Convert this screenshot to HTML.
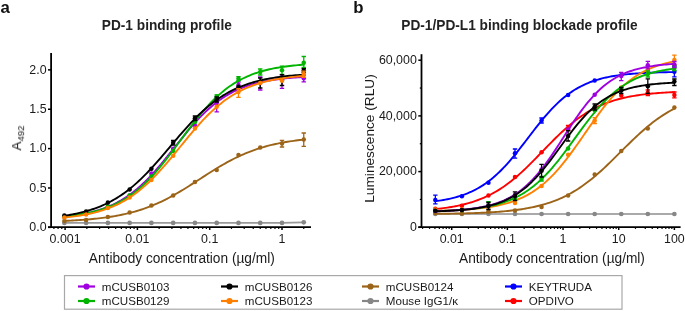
<!DOCTYPE html>
<html><head><meta charset="utf-8"><style>
html,body{margin:0;padding:0;background:#fff;}
svg{display:block;}
text{font-family:"Liberation Sans",sans-serif;fill:#1a1a1a;}
.tk{font-size:12.4px;}
.lg{font-size:11.6px;}
.ttl{font-size:13.7px;font-weight:bold;fill:#222;}
.pl{font-size:16.8px;font-weight:bold;fill:#111;}
.axl{font-size:13.7px;}
</style></head><body>
<svg width="685" height="311" viewBox="0 0 685 311">
<defs><filter id="gs" x="0" y="0" width="685" height="311" filterUnits="userSpaceOnUse"><feColorMatrix type="saturate" values="0"/></filter></defs>
<g filter="url(#gs)">
<text x="0.5" y="12.6" class="pl">a</text>
<text x="353.2" y="12.6" class="pl">b</text>
<text transform="translate(166.8,30) scale(1,1.09)" text-anchor="middle" class="ttl">PD-1 binding profile</text>
<text transform="translate(519.5,30) scale(1,1.09)" text-anchor="middle" class="ttl">PD-1/PD-L1 binding blockade profile</text>
<text transform="translate(181.8,262.6) scale(1,1.05)" text-anchor="middle" class="axl">Antibody concentration (µg/ml)</text>
<text transform="translate(552,262.6) scale(1,1.05)" text-anchor="middle" class="axl">Antibody concentration (µg/ml)</text>
<text transform="translate(21.1,150.6) rotate(-90)" class="axl">A<tspan dy="3.3" font-size="9.6px">492</tspan></text>
<text transform="translate(373.5,138.5) rotate(-90)" text-anchor="middle" class="axl">Luminescence (RLU)</text>
<text x="46.6" y="231.05" text-anchor="end" class="tk">0.0</text>
<text x="46.6" y="191.68" text-anchor="end" class="tk">0.5</text>
<text x="46.6" y="152.31" text-anchor="end" class="tk">1.0</text>
<text x="46.6" y="112.94" text-anchor="end" class="tk">1.5</text>
<text x="46.6" y="73.57" text-anchor="end" class="tk">2.0</text>
<text x="65.10" y="243" text-anchor="middle" class="tk">0.001</text>
<text x="137.40" y="243" text-anchor="middle" class="tk">0.01</text>
<text x="209.70" y="243" text-anchor="middle" class="tk">0.1</text>
<text x="282.00" y="243" text-anchor="middle" class="tk">1</text>
<text x="416.8" y="231.00" text-anchor="end" class="tk">0</text>
<text x="416.8" y="175.30" text-anchor="end" class="tk">20,000</text>
<text x="416.8" y="119.60" text-anchor="end" class="tk">40,000</text>
<text x="416.8" y="63.90" text-anchor="end" class="tk">60,000</text>
<text x="451.70" y="243" text-anchor="middle" class="tk">0.01</text>
<text x="507.37" y="243" text-anchor="middle" class="tk">0.1</text>
<text x="563.04" y="243" text-anchor="middle" class="tk">1</text>
<text x="618.71" y="243" text-anchor="middle" class="tk">10</text>
<text x="674.38" y="243" text-anchor="middle" class="tk">100</text>
<text x="101.8" y="290.7" class="lg">mCUSB0103</text>
<text x="101.8" y="305.2" class="lg">mCUSB0129</text>
<text x="244.8" y="290.7" class="lg">mCUSB0126</text>
<text x="244.8" y="305.2" class="lg">mCUSB0123</text>
<text x="385.8" y="290.7" class="lg">mCUSB0124</text>
<text x="385.8" y="305.2" class="lg">Mouse IgG1/κ</text>
<text x="528.8" y="290.7" class="lg">KEYTRUDA</text>
<text x="528.8" y="305.2" class="lg">OPDIVO</text>
</g>
<line x1="51.1" y1="53" x2="51.1" y2="228" stroke="#000" stroke-width="1.8"/>
<line x1="48" y1="227.1" x2="311" y2="227.1" stroke="#000" stroke-width="1.8"/>
<line x1="48" y1="227.35" x2="51.1" y2="227.35" stroke="#000" stroke-width="1.5"/>
<line x1="48" y1="187.98" x2="51.1" y2="187.98" stroke="#000" stroke-width="1.5"/>
<line x1="48" y1="148.61" x2="51.1" y2="148.61" stroke="#000" stroke-width="1.5"/>
<line x1="48" y1="109.24" x2="51.1" y2="109.24" stroke="#000" stroke-width="1.5"/>
<line x1="48" y1="69.87" x2="51.1" y2="69.87" stroke="#000" stroke-width="1.5"/>
<line x1="53.90" y1="227" x2="53.90" y2="228.9" stroke="#000" stroke-width="1.2"/>
<line x1="58.09" y1="227" x2="58.09" y2="228.9" stroke="#000" stroke-width="1.2"/>
<line x1="61.79" y1="227" x2="61.79" y2="228.9" stroke="#000" stroke-width="1.2"/>
<line x1="65.10" y1="227" x2="65.10" y2="230" stroke="#000" stroke-width="1.5"/>
<line x1="86.86" y1="227" x2="86.86" y2="228.9" stroke="#000" stroke-width="1.2"/>
<line x1="99.60" y1="227" x2="99.60" y2="228.9" stroke="#000" stroke-width="1.2"/>
<line x1="108.63" y1="227" x2="108.63" y2="228.9" stroke="#000" stroke-width="1.2"/>
<line x1="115.64" y1="227" x2="115.64" y2="228.9" stroke="#000" stroke-width="1.2"/>
<line x1="121.36" y1="227" x2="121.36" y2="228.9" stroke="#000" stroke-width="1.2"/>
<line x1="126.20" y1="227" x2="126.20" y2="228.9" stroke="#000" stroke-width="1.2"/>
<line x1="130.39" y1="227" x2="130.39" y2="228.9" stroke="#000" stroke-width="1.2"/>
<line x1="134.09" y1="227" x2="134.09" y2="228.9" stroke="#000" stroke-width="1.2"/>
<line x1="137.40" y1="227" x2="137.40" y2="230" stroke="#000" stroke-width="1.5"/>
<line x1="159.16" y1="227" x2="159.16" y2="228.9" stroke="#000" stroke-width="1.2"/>
<line x1="171.90" y1="227" x2="171.90" y2="228.9" stroke="#000" stroke-width="1.2"/>
<line x1="180.93" y1="227" x2="180.93" y2="228.9" stroke="#000" stroke-width="1.2"/>
<line x1="187.94" y1="227" x2="187.94" y2="228.9" stroke="#000" stroke-width="1.2"/>
<line x1="193.66" y1="227" x2="193.66" y2="228.9" stroke="#000" stroke-width="1.2"/>
<line x1="198.50" y1="227" x2="198.50" y2="228.9" stroke="#000" stroke-width="1.2"/>
<line x1="202.69" y1="227" x2="202.69" y2="228.9" stroke="#000" stroke-width="1.2"/>
<line x1="206.39" y1="227" x2="206.39" y2="228.9" stroke="#000" stroke-width="1.2"/>
<line x1="209.70" y1="227" x2="209.70" y2="230" stroke="#000" stroke-width="1.5"/>
<line x1="231.46" y1="227" x2="231.46" y2="228.9" stroke="#000" stroke-width="1.2"/>
<line x1="244.20" y1="227" x2="244.20" y2="228.9" stroke="#000" stroke-width="1.2"/>
<line x1="253.23" y1="227" x2="253.23" y2="228.9" stroke="#000" stroke-width="1.2"/>
<line x1="260.24" y1="227" x2="260.24" y2="228.9" stroke="#000" stroke-width="1.2"/>
<line x1="265.96" y1="227" x2="265.96" y2="228.9" stroke="#000" stroke-width="1.2"/>
<line x1="270.80" y1="227" x2="270.80" y2="228.9" stroke="#000" stroke-width="1.2"/>
<line x1="274.99" y1="227" x2="274.99" y2="228.9" stroke="#000" stroke-width="1.2"/>
<line x1="278.69" y1="227" x2="278.69" y2="228.9" stroke="#000" stroke-width="1.2"/>
<line x1="282.00" y1="227" x2="282.00" y2="230" stroke="#000" stroke-width="1.5"/>
<line x1="303.76" y1="227" x2="303.76" y2="228.9" stroke="#000" stroke-width="1.2"/>
<line x1="421.5" y1="54.2" x2="421.5" y2="228" stroke="#000" stroke-width="1.8"/>
<line x1="418.3" y1="227.1" x2="680.6" y2="227.1" stroke="#000" stroke-width="1.8"/>
<line x1="418.3" y1="227.30" x2="421.5" y2="227.30" stroke="#000" stroke-width="1.5"/>
<line x1="419.8" y1="199.45" x2="421.5" y2="199.45" stroke="#000" stroke-width="1.2"/>
<line x1="418.3" y1="171.60" x2="421.5" y2="171.60" stroke="#000" stroke-width="1.5"/>
<line x1="419.8" y1="143.75" x2="421.5" y2="143.75" stroke="#000" stroke-width="1.2"/>
<line x1="418.3" y1="115.90" x2="421.5" y2="115.90" stroke="#000" stroke-width="1.5"/>
<line x1="419.8" y1="88.05" x2="421.5" y2="88.05" stroke="#000" stroke-width="1.2"/>
<line x1="418.3" y1="60.20" x2="421.5" y2="60.20" stroke="#000" stroke-width="1.5"/>
<line x1="422.59" y1="227" x2="422.59" y2="228.9" stroke="#000" stroke-width="1.2"/>
<line x1="429.55" y1="227" x2="429.55" y2="228.9" stroke="#000" stroke-width="1.2"/>
<line x1="434.94" y1="227" x2="434.94" y2="228.9" stroke="#000" stroke-width="1.2"/>
<line x1="439.35" y1="227" x2="439.35" y2="228.9" stroke="#000" stroke-width="1.2"/>
<line x1="443.08" y1="227" x2="443.08" y2="228.9" stroke="#000" stroke-width="1.2"/>
<line x1="446.31" y1="227" x2="446.31" y2="228.9" stroke="#000" stroke-width="1.2"/>
<line x1="449.15" y1="227" x2="449.15" y2="228.9" stroke="#000" stroke-width="1.2"/>
<line x1="451.70" y1="227" x2="451.70" y2="230" stroke="#000" stroke-width="1.5"/>
<line x1="468.46" y1="227" x2="468.46" y2="228.9" stroke="#000" stroke-width="1.2"/>
<line x1="478.26" y1="227" x2="478.26" y2="228.9" stroke="#000" stroke-width="1.2"/>
<line x1="485.22" y1="227" x2="485.22" y2="228.9" stroke="#000" stroke-width="1.2"/>
<line x1="490.61" y1="227" x2="490.61" y2="228.9" stroke="#000" stroke-width="1.2"/>
<line x1="495.02" y1="227" x2="495.02" y2="228.9" stroke="#000" stroke-width="1.2"/>
<line x1="498.75" y1="227" x2="498.75" y2="228.9" stroke="#000" stroke-width="1.2"/>
<line x1="501.98" y1="227" x2="501.98" y2="228.9" stroke="#000" stroke-width="1.2"/>
<line x1="504.82" y1="227" x2="504.82" y2="228.9" stroke="#000" stroke-width="1.2"/>
<line x1="507.37" y1="227" x2="507.37" y2="230" stroke="#000" stroke-width="1.5"/>
<line x1="524.13" y1="227" x2="524.13" y2="228.9" stroke="#000" stroke-width="1.2"/>
<line x1="533.93" y1="227" x2="533.93" y2="228.9" stroke="#000" stroke-width="1.2"/>
<line x1="540.89" y1="227" x2="540.89" y2="228.9" stroke="#000" stroke-width="1.2"/>
<line x1="546.28" y1="227" x2="546.28" y2="228.9" stroke="#000" stroke-width="1.2"/>
<line x1="550.69" y1="227" x2="550.69" y2="228.9" stroke="#000" stroke-width="1.2"/>
<line x1="554.42" y1="227" x2="554.42" y2="228.9" stroke="#000" stroke-width="1.2"/>
<line x1="557.65" y1="227" x2="557.65" y2="228.9" stroke="#000" stroke-width="1.2"/>
<line x1="560.49" y1="227" x2="560.49" y2="228.9" stroke="#000" stroke-width="1.2"/>
<line x1="563.04" y1="227" x2="563.04" y2="230" stroke="#000" stroke-width="1.5"/>
<line x1="579.80" y1="227" x2="579.80" y2="228.9" stroke="#000" stroke-width="1.2"/>
<line x1="589.60" y1="227" x2="589.60" y2="228.9" stroke="#000" stroke-width="1.2"/>
<line x1="596.56" y1="227" x2="596.56" y2="228.9" stroke="#000" stroke-width="1.2"/>
<line x1="601.95" y1="227" x2="601.95" y2="228.9" stroke="#000" stroke-width="1.2"/>
<line x1="606.36" y1="227" x2="606.36" y2="228.9" stroke="#000" stroke-width="1.2"/>
<line x1="610.09" y1="227" x2="610.09" y2="228.9" stroke="#000" stroke-width="1.2"/>
<line x1="613.32" y1="227" x2="613.32" y2="228.9" stroke="#000" stroke-width="1.2"/>
<line x1="616.16" y1="227" x2="616.16" y2="228.9" stroke="#000" stroke-width="1.2"/>
<line x1="618.71" y1="227" x2="618.71" y2="230" stroke="#000" stroke-width="1.5"/>
<line x1="635.47" y1="227" x2="635.47" y2="228.9" stroke="#000" stroke-width="1.2"/>
<line x1="645.27" y1="227" x2="645.27" y2="228.9" stroke="#000" stroke-width="1.2"/>
<line x1="652.23" y1="227" x2="652.23" y2="228.9" stroke="#000" stroke-width="1.2"/>
<line x1="657.62" y1="227" x2="657.62" y2="228.9" stroke="#000" stroke-width="1.2"/>
<line x1="662.03" y1="227" x2="662.03" y2="228.9" stroke="#000" stroke-width="1.2"/>
<line x1="665.76" y1="227" x2="665.76" y2="228.9" stroke="#000" stroke-width="1.2"/>
<line x1="668.99" y1="227" x2="668.99" y2="228.9" stroke="#000" stroke-width="1.2"/>
<line x1="671.83" y1="227" x2="671.83" y2="228.9" stroke="#000" stroke-width="1.2"/>
<line x1="674.38" y1="227" x2="674.38" y2="230" stroke="#000" stroke-width="1.5"/>
<rect x="64.5" y="275.6" width="557.5" height="33.6" fill="none" stroke="#a8a8a8" stroke-width="1.2"/>
<line x1="78.0" y1="286.5" x2="95.0" y2="286.5" stroke="#a000e0" stroke-width="2.2"/>
<circle cx="86.5" cy="286.5" r="3.1" fill="#a000e0"/>
<line x1="78.0" y1="301.0" x2="95.0" y2="301.0" stroke="#00b400" stroke-width="2.2"/>
<circle cx="86.5" cy="301.0" r="3.1" fill="#00b400"/>
<line x1="221.0" y1="286.5" x2="238.0" y2="286.5" stroke="#000000" stroke-width="2.2"/>
<circle cx="229.5" cy="286.5" r="3.1" fill="#000000"/>
<line x1="221.0" y1="301.0" x2="238.0" y2="301.0" stroke="#ff8000" stroke-width="2.2"/>
<circle cx="229.5" cy="301.0" r="3.1" fill="#ff8000"/>
<line x1="362.0" y1="286.5" x2="379.0" y2="286.5" stroke="#9c6419" stroke-width="2.2"/>
<circle cx="370.5" cy="286.5" r="3.1" fill="#9c6419"/>
<line x1="362.0" y1="301.0" x2="379.0" y2="301.0" stroke="#878787" stroke-width="2.2"/>
<circle cx="370.5" cy="301.0" r="3.1" fill="#878787"/>
<line x1="505.0" y1="286.5" x2="522.0" y2="286.5" stroke="#0000ff" stroke-width="2.2"/>
<circle cx="513.5" cy="286.5" r="3.1" fill="#0000ff"/>
<line x1="505.0" y1="301.0" x2="522.0" y2="301.0" stroke="#ff0000" stroke-width="2.2"/>
<circle cx="513.5" cy="301.0" r="3.1" fill="#ff0000"/>
<polyline points="64.36,222.90 86.12,222.90 107.88,222.90 129.65,222.90 151.41,222.90 173.18,222.90 194.94,222.90 216.71,222.90 238.47,222.90 260.24,222.90 282.00,222.90 303.76,222.30" fill="none" stroke="#9a9a9a" stroke-width="1.7"/>
<polyline points="435.33,214.00 461.89,214.00 488.45,214.00 515.01,214.00 541.57,214.00 568.13,214.00 594.70,214.00 621.26,214.00 647.82,214.00 674.38,214.00" fill="none" stroke="#8e8e8e" stroke-width="1.6"/>
<circle cx="64.36" cy="222.90" r="2.35" fill="#878787"/><circle cx="86.12" cy="222.90" r="2.35" fill="#878787"/><circle cx="107.88" cy="222.90" r="2.35" fill="#878787"/><circle cx="129.65" cy="222.90" r="2.35" fill="#878787"/><circle cx="151.41" cy="222.90" r="2.35" fill="#878787"/><circle cx="173.18" cy="222.90" r="2.35" fill="#878787"/><circle cx="194.94" cy="222.90" r="2.35" fill="#878787"/><circle cx="216.71" cy="222.90" r="2.35" fill="#878787"/><circle cx="238.47" cy="222.90" r="2.35" fill="#878787"/><circle cx="260.24" cy="222.90" r="2.35" fill="#878787"/><circle cx="282.00" cy="222.90" r="2.35" fill="#878787"/><circle cx="303.76" cy="222.30" r="2.35" fill="#878787"/>
<circle cx="435.33" cy="214.00" r="2.35" fill="#878787"/><circle cx="461.89" cy="214.00" r="2.35" fill="#878787"/><circle cx="488.45" cy="214.00" r="2.35" fill="#878787"/><circle cx="515.01" cy="214.00" r="2.35" fill="#878787"/><circle cx="541.57" cy="214.00" r="2.35" fill="#878787"/><circle cx="568.13" cy="214.00" r="2.35" fill="#878787"/><circle cx="594.70" cy="214.00" r="2.35" fill="#878787"/><circle cx="621.26" cy="214.00" r="2.35" fill="#878787"/><circle cx="647.82" cy="214.00" r="2.35" fill="#878787"/><circle cx="674.38" cy="214.00" r="2.35" fill="#878787"/>
<polyline points="64.36,220.89 66.37,220.80 68.38,220.71 70.39,220.60 72.40,220.50 74.41,220.39 76.43,220.27 78.44,220.14 80.45,220.01 82.46,219.86 84.47,219.71 86.49,219.55 88.50,219.39 90.51,219.21 92.52,219.02 94.53,218.82 96.54,218.61 98.56,218.39 100.57,218.15 102.58,217.91 104.59,217.64 106.60,217.37 108.62,217.08 110.63,216.77 112.64,216.45 114.65,216.10 116.66,215.75 118.68,215.37 120.69,214.97 122.70,214.55 124.71,214.11 126.72,213.65 128.73,213.17 130.75,212.66 132.76,212.13 134.77,211.57 136.78,210.99 138.79,210.38 140.81,209.74 142.82,209.08 144.83,208.38 146.84,207.66 148.85,206.91 150.86,206.13 152.88,205.32 154.89,204.48 156.90,203.61 158.91,202.71 160.92,201.77 162.94,200.81 164.95,199.82 166.96,198.80 168.97,197.75 170.98,196.68 172.99,195.57 175.01,194.45 177.02,193.29 179.03,192.12 181.04,190.92 183.05,189.70 185.07,188.47 187.08,187.22 189.09,185.95 191.10,184.67 193.11,183.39 195.13,182.09 197.14,180.79 199.15,179.49 201.16,178.18 203.17,176.88 205.18,175.59 207.20,174.29 209.21,173.01 211.22,171.74 213.23,170.48 215.24,169.24 217.26,168.01 219.27,166.80 221.28,165.62 223.29,164.45 225.30,163.31 227.31,162.20 229.33,161.11 231.34,160.05 233.35,159.01 235.36,158.01 237.37,157.03 239.39,156.08 241.40,155.17 243.41,154.28 245.42,153.42 247.43,152.60 249.44,151.80 251.46,151.04 253.47,150.30 255.48,149.59 257.49,148.92 259.50,148.27 261.52,147.64 263.53,147.05 265.54,146.48 267.55,145.93 269.56,145.41 271.58,144.92 273.59,144.45 275.60,144.00 277.61,143.57 279.62,143.16 281.63,142.77 283.65,142.40 285.66,142.05 287.67,141.72 289.68,141.41 291.69,141.11 293.71,140.82 295.72,140.55 297.73,140.30 299.74,140.06 301.75,139.83 303.76,139.61" fill="none" stroke="#9c6419" stroke-width="1.9" stroke-linejoin="round" stroke-linecap="round"/>
<path d="M303.76 133.00V146.40M301.56 133.00H305.96M301.56 146.40H305.96" stroke="#9c6419" stroke-width="1.3" fill="none"/>
<path d="M282.00 140.40V147.00M279.80 140.40H284.20M279.80 147.00H284.20" stroke="#9c6419" stroke-width="1.3" fill="none"/>
<circle cx="64.36" cy="221.00" r="2.25" fill="#9c6419"/>
<circle cx="86.12" cy="220.00" r="2.25" fill="#9c6419"/>
<circle cx="107.88" cy="217.00" r="2.25" fill="#9c6419"/>
<circle cx="129.65" cy="212.60" r="2.25" fill="#9c6419"/>
<circle cx="151.41" cy="205.60" r="2.25" fill="#9c6419"/>
<circle cx="173.18" cy="195.60" r="2.25" fill="#9c6419"/>
<circle cx="194.94" cy="182.00" r="2.25" fill="#9c6419"/>
<circle cx="216.71" cy="170.00" r="2.25" fill="#9c6419"/>
<circle cx="238.47" cy="155.00" r="2.25" fill="#9c6419"/>
<circle cx="260.24" cy="147.40" r="2.25" fill="#9c6419"/>
<circle cx="282.00" cy="143.60" r="2.25" fill="#9c6419"/>
<circle cx="303.76" cy="139.60" r="2.25" fill="#9c6419"/>
<polyline points="64.36,216.64 66.37,216.43 68.38,216.20 70.39,215.95 72.40,215.69 74.41,215.41 76.43,215.11 78.44,214.79 80.45,214.45 82.46,214.08 84.47,213.70 86.49,213.28 88.50,212.84 90.51,212.37 92.52,211.87 94.53,211.33 96.54,210.76 98.56,210.16 100.57,209.52 102.58,208.83 104.59,208.11 106.60,207.34 108.62,206.52 110.63,205.66 112.64,204.75 114.65,203.78 116.66,202.76 118.68,201.68 120.69,200.55 122.70,199.35 124.71,198.09 126.72,196.77 128.73,195.39 130.75,193.93 132.76,192.41 134.77,190.83 136.78,189.17 138.79,187.45 140.81,185.65 142.82,183.79 144.83,181.86 146.84,179.87 148.85,177.81 150.86,175.69 152.88,173.52 154.89,171.28 156.90,169.00 158.91,166.66 160.92,164.28 162.94,161.87 164.95,159.41 166.96,156.93 168.97,154.43 170.98,151.91 172.99,149.38 175.01,146.85 177.02,144.31 179.03,141.79 181.04,139.28 183.05,136.79 185.07,134.32 187.08,131.89 189.09,129.49 191.10,127.14 193.11,124.83 195.13,122.57 197.14,120.37 199.15,118.22 201.16,116.14 203.17,114.11 205.18,112.16 207.20,110.27 209.21,108.44 211.22,106.69 213.23,105.00 215.24,103.38 217.26,101.83 219.27,100.35 221.28,98.93 223.29,97.58 225.30,96.30 227.31,95.07 229.33,93.91 231.34,92.81 233.35,91.76 235.36,90.77 237.37,89.84 239.39,88.95 241.40,88.11 243.41,87.32 245.42,86.58 247.43,85.88 249.44,85.22 251.46,84.60 253.47,84.01 255.48,83.46 257.49,82.95 259.50,82.46 261.52,82.01 263.53,81.58 265.54,81.18 267.55,80.80 269.56,80.45 271.58,80.12 273.59,79.82 275.60,79.53 277.61,79.26 279.62,79.00 281.63,78.77 283.65,78.55 285.66,78.34 287.67,78.15 289.68,77.97 291.69,77.80 293.71,77.64 295.72,77.49 297.73,77.36 299.74,77.23 301.75,77.11 303.76,77.00" fill="none" stroke="#a000e0" stroke-width="1.9" stroke-linejoin="round" stroke-linecap="round"/>
<path d="M303.76 75.00V81.80M301.56 75.00H305.96M301.56 81.80H305.96" stroke="#a000e0" stroke-width="1.3" fill="none"/>
<path d="M282.00 76.00V88.30M279.80 76.00H284.20M279.80 88.30H284.20" stroke="#a000e0" stroke-width="1.3" fill="none"/>
<path d="M260.24 77.00V90.00M258.04 77.00H262.44M258.04 90.00H262.44" stroke="#a000e0" stroke-width="1.3" fill="none"/>
<path d="M238.47 82.00V87.50M236.27 82.00H240.67M236.27 87.50H240.67" stroke="#a000e0" stroke-width="1.3" fill="none"/>
<path d="M216.71 100.00V111.80M214.51 100.00H218.91M214.51 111.80H218.91" stroke="#a000e0" stroke-width="1.3" fill="none"/>
<circle cx="64.36" cy="216.80" r="2.25" fill="#a000e0"/>
<circle cx="86.12" cy="213.60" r="2.25" fill="#a000e0"/>
<circle cx="107.88" cy="206.50" r="2.25" fill="#a000e0"/>
<circle cx="129.65" cy="195.50" r="2.25" fill="#a000e0"/>
<circle cx="151.41" cy="173.40" r="2.25" fill="#a000e0"/>
<circle cx="173.18" cy="148.80" r="2.25" fill="#a000e0"/>
<circle cx="194.94" cy="125.50" r="2.25" fill="#a000e0"/>
<circle cx="216.71" cy="103.00" r="2.25" fill="#a000e0"/>
<circle cx="238.47" cy="84.90" r="2.25" fill="#a000e0"/>
<circle cx="260.24" cy="82.00" r="2.25" fill="#a000e0"/>
<circle cx="282.00" cy="80.00" r="2.25" fill="#a000e0"/>
<circle cx="303.76" cy="78.20" r="2.25" fill="#a000e0"/>
<polyline points="64.36,216.25 66.37,216.05 68.38,215.84 70.39,215.62 72.40,215.38 74.41,215.12 76.43,214.85 78.44,214.55 80.45,214.24 82.46,213.91 84.47,213.55 86.49,213.17 88.50,212.76 90.51,212.33 92.52,211.87 94.53,211.38 96.54,210.85 98.56,210.30 100.57,209.70 102.58,209.07 104.59,208.40 106.60,207.69 108.62,206.93 110.63,206.13 112.64,205.28 114.65,204.38 116.66,203.43 118.68,202.42 120.69,201.36 122.70,200.24 124.71,199.05 126.72,197.80 128.73,196.49 130.75,195.11 132.76,193.67 134.77,192.15 136.78,190.56 138.79,188.90 140.81,187.17 142.82,185.36 144.83,183.48 146.84,181.53 148.85,179.50 150.86,177.41 152.88,175.24 154.89,173.01 156.90,170.71 158.91,168.35 160.92,165.93 162.94,163.46 164.95,160.93 166.96,158.36 168.97,155.75 170.98,153.11 172.99,150.43 175.01,147.73 177.02,145.02 179.03,142.29 181.04,139.57 183.05,136.84 185.07,134.12 187.08,131.42 189.09,128.75 191.10,126.10 193.11,123.48 195.13,120.91 197.14,118.38 199.15,115.90 201.16,113.47 203.17,111.11 205.18,108.80 207.20,106.56 209.21,104.39 211.22,102.28 213.23,100.25 215.24,98.29 217.26,96.40 219.27,94.59 221.28,92.85 223.29,91.18 225.30,89.58 227.31,88.06 229.33,86.60 231.34,85.21 233.35,83.89 235.36,82.64 237.37,81.45 239.39,80.32 241.40,79.25 243.41,78.24 245.42,77.28 247.43,76.37 249.44,75.52 251.46,74.71 253.47,73.95 255.48,73.23 257.49,72.56 259.50,71.92 261.52,71.32 263.53,70.76 265.54,70.24 267.55,69.74 269.56,69.28 271.58,68.84 273.59,68.43 275.60,68.05 277.61,67.69 279.62,67.35 281.63,67.04 283.65,66.74 285.66,66.46 287.67,66.20 289.68,65.96 291.69,65.74 293.71,65.52 295.72,65.33 297.73,65.14 299.74,64.97 301.75,64.81 303.76,64.65" fill="none" stroke="#00b400" stroke-width="1.9" stroke-linejoin="round" stroke-linecap="round"/>
<path d="M303.76 56.50V67.50M301.56 56.50H305.96M301.56 67.50H305.96" stroke="#00b400" stroke-width="1.3" fill="none"/>
<path d="M282.00 66.20V74.50M279.80 66.20H284.20M279.80 74.50H284.20" stroke="#00b400" stroke-width="1.3" fill="none"/>
<path d="M260.24 69.00V75.00M258.04 69.00H262.44M258.04 75.00H262.44" stroke="#00b400" stroke-width="1.3" fill="none"/>
<path d="M238.47 76.70V80.60M236.27 76.70H240.67M236.27 80.60H240.67" stroke="#00b400" stroke-width="1.3" fill="none"/>
<path d="M216.71 94.80V98.50M214.51 94.80H218.91M214.51 98.50H218.91" stroke="#00b400" stroke-width="1.3" fill="none"/>
<circle cx="64.36" cy="216.80" r="2.25" fill="#00b400"/>
<circle cx="86.12" cy="213.60" r="2.25" fill="#00b400"/>
<circle cx="107.88" cy="206.50" r="2.25" fill="#00b400"/>
<circle cx="129.65" cy="195.40" r="2.25" fill="#00b400"/>
<circle cx="151.41" cy="176.40" r="2.25" fill="#00b400"/>
<circle cx="173.18" cy="151.00" r="2.25" fill="#00b400"/>
<circle cx="194.94" cy="121.90" r="2.25" fill="#00b400"/>
<circle cx="216.71" cy="96.50" r="2.25" fill="#00b400"/>
<circle cx="238.47" cy="78.70" r="2.25" fill="#00b400"/>
<circle cx="260.24" cy="72.00" r="2.25" fill="#00b400"/>
<circle cx="282.00" cy="70.30" r="2.25" fill="#00b400"/>
<circle cx="303.76" cy="62.70" r="2.25" fill="#00b400"/>
<polyline points="64.36,215.75 66.37,215.44 68.38,215.11 70.39,214.77 72.40,214.40 74.41,214.01 76.43,213.59 78.44,213.15 80.45,212.69 82.46,212.19 84.47,211.67 86.49,211.12 88.50,210.53 90.51,209.92 92.52,209.26 94.53,208.57 96.54,207.84 98.56,207.07 100.57,206.26 102.58,205.40 104.59,204.50 106.60,203.56 108.62,202.56 110.63,201.52 112.64,200.42 114.65,199.27 116.66,198.07 118.68,196.81 120.69,195.49 122.70,194.12 124.71,192.69 126.72,191.20 128.73,189.65 130.75,188.04 132.76,186.37 134.77,184.65 136.78,182.86 138.79,181.02 140.81,179.12 142.82,177.16 144.83,175.16 146.84,173.10 148.85,170.99 150.86,168.84 152.88,166.65 154.89,164.41 156.90,162.15 158.91,159.85 160.92,157.52 162.94,155.17 164.95,152.81 166.96,150.43 168.97,148.04 170.98,145.65 172.99,143.27 175.01,140.89 177.02,138.52 179.03,136.17 181.04,133.83 183.05,131.53 185.07,129.26 187.08,127.02 189.09,124.81 191.10,122.65 193.11,120.54 195.13,118.47 197.14,116.45 199.15,114.49 201.16,112.58 203.17,110.72 205.18,108.93 207.20,107.19 209.21,105.51 211.22,103.89 213.23,102.33 215.24,100.83 217.26,99.38 219.27,98.00 221.28,96.67 223.29,95.40 225.30,94.19 227.31,93.03 229.33,91.92 231.34,90.87 233.35,89.86 235.36,88.90 237.37,88.00 239.39,87.13 241.40,86.31 243.41,85.54 245.42,84.80 247.43,84.10 249.44,83.44 251.46,82.81 253.47,82.22 255.48,81.66 257.49,81.13 259.50,80.63 261.52,80.16 263.53,79.72 265.54,79.30 267.55,78.91 269.56,78.53 271.58,78.18 273.59,77.85 275.60,77.54 277.61,77.25 279.62,76.97 281.63,76.71 283.65,76.47 285.66,76.24 287.67,76.02 289.68,75.82 291.69,75.63 293.71,75.45 295.72,75.28 297.73,75.13 299.74,74.98 301.75,74.84 303.76,74.71" fill="none" stroke="#000000" stroke-width="1.9" stroke-linejoin="round" stroke-linecap="round"/>
<path d="M303.76 68.60V72.50M301.56 68.60H305.96M301.56 72.50H305.96" stroke="#000000" stroke-width="1.3" fill="none"/>
<path d="M282.00 74.60V85.50M279.80 74.60H284.20M279.80 85.50H284.20" stroke="#000000" stroke-width="1.3" fill="none"/>
<path d="M260.24 78.00V88.00M258.04 78.00H262.44M258.04 88.00H262.44" stroke="#000000" stroke-width="1.3" fill="none"/>
<path d="M216.71 97.00V102.00M214.51 97.00H218.91M214.51 102.00H218.91" stroke="#000000" stroke-width="1.3" fill="none"/>
<path d="M194.94 116.00V120.50M192.74 116.00H197.14M192.74 120.50H197.14" stroke="#000000" stroke-width="1.3" fill="none"/>
<path d="M173.18 140.50V145.00M170.98 140.50H175.38M170.98 145.00H175.38" stroke="#000000" stroke-width="1.3" fill="none"/>
<circle cx="64.36" cy="215.60" r="2.25" fill="#000000"/>
<circle cx="86.12" cy="211.40" r="2.25" fill="#000000"/>
<circle cx="107.88" cy="202.40" r="2.25" fill="#000000"/>
<circle cx="129.65" cy="189.40" r="2.25" fill="#000000"/>
<circle cx="151.41" cy="168.80" r="2.25" fill="#000000"/>
<circle cx="173.18" cy="142.70" r="2.25" fill="#000000"/>
<circle cx="194.94" cy="118.20" r="2.25" fill="#000000"/>
<circle cx="216.71" cy="99.50" r="2.25" fill="#000000"/>
<circle cx="238.47" cy="86.80" r="2.25" fill="#000000"/>
<circle cx="260.24" cy="82.50" r="2.25" fill="#000000"/>
<circle cx="282.00" cy="80.00" r="2.25" fill="#000000"/>
<circle cx="303.76" cy="70.60" r="2.25" fill="#000000"/>
<polyline points="64.36,217.55 66.37,217.35 68.38,217.13 70.39,216.89 72.40,216.65 74.41,216.38 76.43,216.10 78.44,215.80 80.45,215.48 82.46,215.14 84.47,214.77 86.49,214.39 88.50,213.98 90.51,213.54 92.52,213.08 94.53,212.58 96.54,212.06 98.56,211.50 100.57,210.92 102.58,210.29 104.59,209.63 106.60,208.93 108.62,208.19 110.63,207.40 112.64,206.57 114.65,205.70 116.66,204.77 118.68,203.80 120.69,202.78 122.70,201.70 124.71,200.56 126.72,199.37 128.73,198.12 130.75,196.81 132.76,195.44 134.77,194.01 136.78,192.51 138.79,190.95 140.81,189.33 142.82,187.64 144.83,185.89 146.84,184.08 148.85,182.20 150.86,180.27 152.88,178.27 154.89,176.21 156.90,174.10 158.91,171.94 160.92,169.73 162.94,167.47 164.95,165.16 166.96,162.82 168.97,160.45 170.98,158.05 172.99,155.62 175.01,153.17 177.02,150.71 179.03,148.24 181.04,145.77 183.05,143.31 185.07,140.85 187.08,138.40 189.09,135.98 191.10,133.58 193.11,131.20 195.13,128.87 197.14,126.57 199.15,124.31 201.16,122.11 203.17,119.95 205.18,117.84 207.20,115.79 209.21,113.80 211.22,111.87 213.23,110.00 215.24,108.19 217.26,106.45 219.27,104.77 221.28,103.15 223.29,101.60 225.30,100.11 227.31,98.68 229.33,97.31 231.34,96.01 233.35,94.77 235.36,93.58 237.37,92.45 239.39,91.38 241.40,90.36 243.41,89.39 245.42,88.47 247.43,87.60 249.44,86.77 251.46,85.99 253.47,85.26 255.48,84.56 257.49,83.90 259.50,83.28 261.52,82.69 263.53,82.14 265.54,81.62 267.55,81.13 269.56,80.67 271.58,80.24 273.59,79.83 275.60,79.44 277.61,79.08 279.62,78.74 281.63,78.43 283.65,78.13 285.66,77.85 287.67,77.58 289.68,77.34 291.69,77.10 293.71,76.89 295.72,76.68 297.73,76.49 299.74,76.31 301.75,76.14 303.76,75.99" fill="none" stroke="#ff8000" stroke-width="1.9" stroke-linejoin="round" stroke-linecap="round"/>
<path d="M303.76 71.20V77.30M301.56 71.20H305.96M301.56 77.30H305.96" stroke="#ff8000" stroke-width="1.3" fill="none"/>
<path d="M238.47 88.75V97.40M236.27 88.75H240.67M236.27 97.40H240.67" stroke="#ff8000" stroke-width="1.3" fill="none"/>
<circle cx="64.36" cy="217.60" r="2.25" fill="#ff8000"/>
<circle cx="86.12" cy="214.60" r="2.25" fill="#ff8000"/>
<circle cx="107.88" cy="208.00" r="2.25" fill="#ff8000"/>
<circle cx="129.65" cy="197.60" r="2.25" fill="#ff8000"/>
<circle cx="151.41" cy="180.00" r="2.25" fill="#ff8000"/>
<circle cx="173.18" cy="155.80" r="2.25" fill="#ff8000"/>
<circle cx="194.94" cy="128.40" r="2.25" fill="#ff8000"/>
<circle cx="216.71" cy="106.70" r="2.25" fill="#ff8000"/>
<circle cx="238.47" cy="92.10" r="2.25" fill="#ff8000"/>
<circle cx="260.24" cy="83.00" r="2.25" fill="#ff8000"/>
<circle cx="282.00" cy="80.70" r="2.25" fill="#ff8000"/>
<circle cx="303.76" cy="73.90" r="2.25" fill="#ff8000"/>
<polyline points="435.33,209.12 437.34,208.91 439.35,208.68 441.35,208.44 443.36,208.18 445.37,207.91 447.38,207.62 449.39,207.31 451.40,206.98 453.41,206.63 455.42,206.25 457.43,205.85 459.43,205.43 461.44,204.98 463.45,204.50 465.46,203.99 467.47,203.45 469.48,202.88 471.49,202.28 473.50,201.63 475.50,200.95 477.51,200.24 479.52,199.48 481.53,198.68 483.54,197.83 485.55,196.94 487.56,196.00 489.57,195.02 491.58,193.98 493.58,192.90 495.59,191.76 497.60,190.57 499.61,189.32 501.62,188.02 503.63,186.67 505.64,185.26 507.65,183.80 509.66,182.28 511.66,180.71 513.67,179.08 515.68,177.41 517.69,175.68 519.70,173.91 521.71,172.09 523.72,170.23 525.73,168.33 527.73,166.39 529.74,164.42 531.75,162.42 533.76,160.39 535.77,158.34 537.78,156.28 539.79,154.21 541.80,152.13 543.81,150.05 545.81,147.97 547.82,145.90 549.83,143.85 551.84,141.81 553.85,139.79 555.86,137.80 557.87,135.84 559.88,133.91 561.88,132.03 563.89,130.18 565.90,128.38 567.91,126.62 569.92,124.91 571.93,123.25 573.94,121.65 575.95,120.10 577.96,118.60 579.96,117.15 581.97,115.77 583.98,114.43 585.99,113.15 588.00,111.93 590.01,110.75 592.02,109.64 594.03,108.57 596.04,107.55 598.04,106.58 600.05,105.66 602.06,104.79 604.07,103.96 606.08,103.17 608.09,102.43 610.10,101.73 612.11,101.06 614.11,100.43 616.12,99.84 618.13,99.28 620.14,98.75 622.15,98.25 624.16,97.79 626.17,97.35 628.18,96.93 630.19,96.54 632.19,96.17 634.20,95.83 636.21,95.51 638.22,95.20 640.23,94.92 642.24,94.65 644.25,94.40 646.26,94.17 648.27,93.95 650.27,93.74 652.28,93.55 654.29,93.37 656.30,93.20 658.31,93.04 660.32,92.89 662.33,92.75 664.34,92.62 666.34,92.50 668.35,92.38 670.36,92.28 672.37,92.18 674.38,92.08" fill="none" stroke="#ff0000" stroke-width="1.9" stroke-linejoin="round" stroke-linecap="round"/>
<path d="M674.38 92.00V97.80M672.18 92.00H676.58M672.18 97.80H676.58" stroke="#ff0000" stroke-width="1.3" fill="none"/>
<path d="M647.82 90.00V95.50M645.62 90.00H650.02M645.62 95.50H650.02" stroke="#ff0000" stroke-width="1.3" fill="none"/>
<path d="M568.13 125.30V130.50M565.93 125.30H570.33M565.93 130.50H570.33" stroke="#ff0000" stroke-width="1.3" fill="none"/>
<circle cx="435.33" cy="208.70" r="2.25" fill="#ff0000"/>
<circle cx="461.89" cy="205.80" r="2.25" fill="#ff0000"/>
<circle cx="488.45" cy="195.60" r="2.25" fill="#ff0000"/>
<circle cx="515.01" cy="176.90" r="2.25" fill="#ff0000"/>
<circle cx="541.57" cy="152.30" r="2.25" fill="#ff0000"/>
<circle cx="568.13" cy="128.00" r="2.25" fill="#ff0000"/>
<circle cx="594.70" cy="108.50" r="2.25" fill="#ff0000"/>
<circle cx="621.26" cy="95.60" r="2.25" fill="#ff0000"/>
<circle cx="647.82" cy="92.70" r="2.25" fill="#ff0000"/>
<circle cx="674.38" cy="95.00" r="2.25" fill="#ff0000"/>
<polyline points="435.33,201.20 437.34,200.93 439.35,200.64 441.35,200.33 443.36,199.99 445.37,199.62 447.38,199.23 449.39,198.81 451.40,198.36 453.41,197.87 455.42,197.35 457.43,196.79 459.43,196.19 461.44,195.54 463.45,194.85 465.46,194.12 467.47,193.33 469.48,192.48 471.49,191.59 473.50,190.63 475.50,189.61 477.51,188.52 479.52,187.37 481.53,186.15 483.54,184.86 485.55,183.49 487.56,182.05 489.57,180.53 491.58,178.93 493.58,177.26 495.59,175.50 497.60,173.66 499.61,171.75 501.62,169.75 503.63,167.68 505.64,165.53 507.65,163.32 509.66,161.03 511.66,158.68 513.67,156.28 515.68,153.82 517.69,151.31 519.70,148.77 521.71,146.19 523.72,143.59 525.73,140.97 527.73,138.34 529.74,135.71 531.75,133.09 533.76,130.49 535.77,127.91 537.78,125.36 539.79,122.84 541.80,120.38 543.81,117.96 545.81,115.60 547.82,113.31 549.83,111.08 551.84,108.92 553.85,106.83 555.86,104.82 557.87,102.89 559.88,101.04 561.88,99.27 563.89,97.58 565.90,95.97 567.91,94.43 569.92,92.98 571.93,91.60 573.94,90.29 575.95,89.06 577.96,87.90 579.96,86.80 581.97,85.77 583.98,84.80 585.99,83.89 588.00,83.04 590.01,82.24 592.02,81.49 594.03,80.80 596.04,80.14 598.04,79.54 600.05,78.97 602.06,78.44 604.07,77.95 606.08,77.49 608.09,77.06 610.10,76.66 612.11,76.30 614.11,75.95 616.12,75.63 618.13,75.34 620.14,75.06 622.15,74.81 624.16,74.57 626.17,74.36 628.18,74.15 630.19,73.97 632.19,73.79 634.20,73.63 636.21,73.48 638.22,73.34 640.23,73.21 642.24,73.10 644.25,72.99 646.26,72.88 648.27,72.79 650.27,72.70 652.28,72.62 654.29,72.55 656.30,72.48 658.31,72.42 660.32,72.36 662.33,72.30 664.34,72.25 666.34,72.21 668.35,72.16 670.36,72.12 672.37,72.09 674.38,72.05" fill="none" stroke="#0000ff" stroke-width="1.9" stroke-linejoin="round" stroke-linecap="round"/>
<path d="M674.38 66.50V76.80M672.18 66.50H676.58M672.18 76.80H676.58" stroke="#0000ff" stroke-width="1.3" fill="none"/>
<path d="M541.57 118.00V123.00M539.37 118.00H543.77M539.37 123.00H543.77" stroke="#0000ff" stroke-width="1.3" fill="none"/>
<path d="M515.01 149.00V158.10M512.81 149.00H517.21M512.81 158.10H517.21" stroke="#0000ff" stroke-width="1.3" fill="none"/>
<path d="M435.33 195.20V203.90M433.13 195.20H437.53M433.13 203.90H437.53" stroke="#0000ff" stroke-width="1.3" fill="none"/>
<circle cx="435.33" cy="200.00" r="2.25" fill="#0000ff"/>
<circle cx="461.89" cy="196.20" r="2.25" fill="#0000ff"/>
<circle cx="488.45" cy="182.80" r="2.25" fill="#0000ff"/>
<circle cx="515.01" cy="153.30" r="2.25" fill="#0000ff"/>
<circle cx="541.57" cy="120.50" r="2.25" fill="#0000ff"/>
<circle cx="568.13" cy="95.10" r="2.25" fill="#0000ff"/>
<circle cx="594.70" cy="80.60" r="2.25" fill="#0000ff"/>
<circle cx="621.26" cy="75.30" r="2.25" fill="#0000ff"/>
<circle cx="647.82" cy="72.40" r="2.25" fill="#0000ff"/>
<circle cx="674.38" cy="71.70" r="2.25" fill="#0000ff"/>
<polyline points="435.33,213.87 437.34,213.85 439.35,213.82 441.35,213.80 443.36,213.77 445.37,213.74 447.38,213.71 449.39,213.68 451.40,213.65 453.41,213.61 455.42,213.57 457.43,213.53 459.43,213.49 461.44,213.44 463.45,213.39 465.46,213.34 467.47,213.28 469.48,213.22 471.49,213.16 473.50,213.09 475.50,213.02 477.51,212.94 479.52,212.86 481.53,212.77 483.54,212.68 485.55,212.58 487.56,212.47 489.57,212.36 491.58,212.24 493.58,212.11 495.59,211.98 497.60,211.83 499.61,211.68 501.62,211.51 503.63,211.34 505.64,211.15 507.65,210.96 509.66,210.75 511.66,210.52 513.67,210.29 515.68,210.04 517.69,209.77 519.70,209.49 521.71,209.19 523.72,208.87 525.73,208.53 527.73,208.17 529.74,207.79 531.75,207.39 533.76,206.96 535.77,206.51 537.78,206.03 539.79,205.52 541.80,204.99 543.81,204.42 545.81,203.83 547.82,203.20 549.83,202.54 551.84,201.84 553.85,201.10 555.86,200.33 557.87,199.51 559.88,198.66 561.88,197.76 563.89,196.82 565.90,195.84 567.91,194.80 569.92,193.73 571.93,192.60 573.94,191.43 575.95,190.20 577.96,188.93 579.96,187.61 581.97,186.24 583.98,184.82 585.99,183.35 588.00,181.83 590.01,180.26 592.02,178.65 594.03,176.99 596.04,175.29 598.04,173.55 600.05,171.76 602.06,169.95 604.07,168.09 606.08,166.21 608.09,164.30 610.10,162.36 612.11,160.40 614.11,158.43 616.12,156.44 618.13,154.44 620.14,152.44 622.15,150.44 624.16,148.44 626.17,146.44 628.18,144.46 630.19,142.50 632.19,140.55 634.20,138.63 636.21,136.73 638.22,134.86 640.23,133.03 642.24,131.23 644.25,129.47 646.26,127.75 648.27,126.08 650.27,124.44 652.28,122.86 654.29,121.32 656.30,119.83 658.31,118.38 660.32,116.99 662.33,115.65 664.34,114.35 666.34,113.11 668.35,111.91 670.36,110.77 672.37,109.67 674.38,108.62" fill="none" stroke="#9c6419" stroke-width="1.9" stroke-linejoin="round" stroke-linecap="round"/>
<circle cx="435.33" cy="213.00" r="2.25" fill="#9c6419"/>
<circle cx="461.89" cy="213.60" r="2.25" fill="#9c6419"/>
<circle cx="488.45" cy="211.50" r="2.25" fill="#9c6419"/>
<circle cx="515.01" cy="210.40" r="2.25" fill="#9c6419"/>
<circle cx="541.57" cy="207.00" r="2.25" fill="#9c6419"/>
<circle cx="568.13" cy="195.50" r="2.25" fill="#9c6419"/>
<circle cx="594.70" cy="174.40" r="2.25" fill="#9c6419"/>
<circle cx="621.26" cy="151.00" r="2.25" fill="#9c6419"/>
<circle cx="647.82" cy="128.40" r="2.25" fill="#9c6419"/>
<circle cx="674.38" cy="107.60" r="2.25" fill="#9c6419"/>
<polyline points="435.33,210.83 437.34,210.78 439.35,210.74 441.35,210.68 443.36,210.62 445.37,210.56 447.38,210.50 449.39,210.42 451.40,210.35 453.41,210.26 455.42,210.17 457.43,210.08 459.43,209.97 461.44,209.86 463.45,209.74 465.46,209.61 467.47,209.47 469.48,209.32 471.49,209.16 473.50,208.99 475.50,208.80 477.51,208.61 479.52,208.39 481.53,208.16 483.54,207.91 485.55,207.65 487.56,207.36 489.57,207.05 491.58,206.72 493.58,206.37 495.59,205.99 497.60,205.59 499.61,205.15 501.62,204.68 503.63,204.19 505.64,203.65 507.65,203.08 509.66,202.47 511.66,201.82 513.67,201.12 515.68,200.38 517.69,199.59 519.70,198.74 521.71,197.84 523.72,196.89 525.73,195.87 527.73,194.79 529.74,193.65 531.75,192.44 533.76,191.16 535.77,189.80 537.78,188.37 539.79,186.86 541.80,185.28 543.81,183.61 545.81,181.86 547.82,180.03 549.83,178.12 551.84,176.12 553.85,174.04 555.86,171.87 557.87,169.63 559.88,167.30 561.88,164.90 563.89,162.43 565.90,159.89 567.91,157.28 569.92,154.61 571.93,151.89 573.94,149.12 575.95,146.31 577.96,143.47 579.96,140.60 581.97,137.71 583.98,134.81 585.99,131.90 588.00,129.00 590.01,126.11 592.02,123.25 594.03,120.41 596.04,117.61 598.04,114.85 600.05,112.14 602.06,109.49 604.07,106.90 606.08,104.37 608.09,101.92 610.10,99.54 612.11,97.23 614.11,95.01 616.12,92.86 618.13,90.80 620.14,88.83 622.15,86.93 624.16,85.12 626.17,83.39 628.18,81.75 630.19,80.18 632.19,78.69 634.20,77.28 636.21,75.94 638.22,74.68 640.23,73.49 642.24,72.36 644.25,71.30 646.26,70.29 648.27,69.35 650.27,68.47 652.28,67.64 654.29,66.86 656.30,66.13 658.31,65.44 660.32,64.80 662.33,64.20 664.34,63.64 666.34,63.11 668.35,62.62 670.36,62.16 672.37,61.73 674.38,61.34" fill="none" stroke="#ff8000" stroke-width="1.9" stroke-linejoin="round" stroke-linecap="round"/>
<path d="M674.38 55.10V65.00M672.18 55.10H676.58M672.18 65.00H676.58" stroke="#ff8000" stroke-width="1.3" fill="none"/>
<path d="M647.82 68.00V74.00M645.62 68.00H650.02M645.62 74.00H650.02" stroke="#ff8000" stroke-width="1.3" fill="none"/>
<path d="M594.70 117.60V123.50M592.50 117.60H596.90M592.50 123.50H596.90" stroke="#ff8000" stroke-width="1.3" fill="none"/>
<circle cx="435.33" cy="209.50" r="2.25" fill="#ff8000"/>
<circle cx="461.89" cy="209.30" r="2.25" fill="#ff8000"/>
<circle cx="488.45" cy="207.50" r="2.25" fill="#ff8000"/>
<circle cx="515.01" cy="202.90" r="2.25" fill="#ff8000"/>
<circle cx="541.57" cy="186.00" r="2.25" fill="#ff8000"/>
<circle cx="568.13" cy="154.80" r="2.25" fill="#ff8000"/>
<circle cx="594.70" cy="120.50" r="2.25" fill="#ff8000"/>
<circle cx="621.26" cy="87.50" r="2.25" fill="#ff8000"/>
<circle cx="647.82" cy="71.00" r="2.25" fill="#ff8000"/>
<circle cx="674.38" cy="60.10" r="2.25" fill="#ff8000"/>
<polyline points="435.33,211.12 437.34,211.06 439.35,210.99 441.35,210.92 443.36,210.85 445.37,210.76 447.38,210.68 449.39,210.58 451.40,210.48 453.41,210.37 455.42,210.25 457.43,210.13 459.43,209.99 461.44,209.84 463.45,209.69 465.46,209.52 467.47,209.33 469.48,209.14 471.49,208.92 473.50,208.70 475.50,208.45 477.51,208.19 479.52,207.91 481.53,207.60 483.54,207.28 485.55,206.93 487.56,206.55 489.57,206.15 491.58,205.72 493.58,205.26 495.59,204.76 497.60,204.23 499.61,203.67 501.62,203.06 503.63,202.41 505.64,201.72 507.65,200.98 509.66,200.19 511.66,199.35 513.67,198.46 515.68,197.51 517.69,196.50 519.70,195.43 521.71,194.29 523.72,193.09 525.73,191.82 527.73,190.47 529.74,189.05 531.75,187.56 533.76,185.99 535.77,184.34 537.78,182.61 539.79,180.80 541.80,178.91 543.81,176.94 545.81,174.89 547.82,172.76 549.83,170.55 551.84,168.28 553.85,165.93 555.86,163.51 557.87,161.03 559.88,158.50 561.88,155.91 563.89,153.27 565.90,150.59 567.91,147.88 569.92,145.15 571.93,142.39 573.94,139.63 575.95,136.86 577.96,134.10 579.96,131.34 581.97,128.61 583.98,125.91 585.99,123.24 588.00,120.62 590.01,118.04 592.02,115.52 594.03,113.05 596.04,110.65 598.04,108.32 600.05,106.05 602.06,103.87 604.07,101.76 606.08,99.73 608.09,97.77 610.10,95.90 612.11,94.11 614.11,92.40 616.12,90.77 618.13,89.21 620.14,87.74 622.15,86.33 624.16,85.01 626.17,83.75 628.18,82.56 630.19,81.44 632.19,80.38 634.20,79.39 636.21,78.45 638.22,77.57 640.23,76.74 642.24,75.97 644.25,75.24 646.26,74.56 648.27,73.92 650.27,73.32 652.28,72.76 654.29,72.24 656.30,71.75 658.31,71.30 660.32,70.88 662.33,70.48 664.34,70.11 666.34,69.77 668.35,69.45 670.36,69.15 672.37,68.87 674.38,68.61" fill="none" stroke="#00b400" stroke-width="1.9" stroke-linejoin="round" stroke-linecap="round"/>
<path d="M674.38 65.50V70.50M672.18 65.50H676.58M672.18 70.50H676.58" stroke="#00b400" stroke-width="1.3" fill="none"/>
<path d="M647.82 71.00V77.00M645.62 71.00H650.02M645.62 77.00H650.02" stroke="#00b400" stroke-width="1.3" fill="none"/>
<path d="M541.57 176.50V181.00M539.37 176.50H543.77M539.37 181.00H543.77" stroke="#00b400" stroke-width="1.3" fill="none"/>
<path d="M488.45 201.70V206.00M486.25 201.70H490.65M486.25 206.00H490.65" stroke="#00b400" stroke-width="1.3" fill="none"/>
<circle cx="435.33" cy="211.00" r="2.25" fill="#00b400"/>
<circle cx="461.89" cy="210.30" r="2.25" fill="#00b400"/>
<circle cx="488.45" cy="205.50" r="2.25" fill="#00b400"/>
<circle cx="515.01" cy="198.50" r="2.25" fill="#00b400"/>
<circle cx="541.57" cy="178.70" r="2.25" fill="#00b400"/>
<circle cx="568.13" cy="148.60" r="2.25" fill="#00b400"/>
<circle cx="594.70" cy="110.30" r="2.25" fill="#00b400"/>
<circle cx="621.26" cy="88.80" r="2.25" fill="#00b400"/>
<circle cx="647.82" cy="73.90" r="2.25" fill="#00b400"/>
<circle cx="674.38" cy="68.10" r="2.25" fill="#00b400"/>
<polyline points="435.33,211.25 437.34,211.18 439.35,211.12 441.35,211.04 443.36,210.96 445.37,210.88 447.38,210.78 449.39,210.68 451.40,210.57 453.41,210.45 455.42,210.32 457.43,210.18 459.43,210.02 461.44,209.86 463.45,209.68 465.46,209.48 467.47,209.27 469.48,209.04 471.49,208.79 473.50,208.52 475.50,208.22 477.51,207.91 479.52,207.56 481.53,207.19 483.54,206.79 485.55,206.36 487.56,205.89 489.57,205.38 491.58,204.84 493.58,204.25 495.59,203.61 497.60,202.93 499.61,202.19 501.62,201.40 503.63,200.55 505.64,199.64 507.65,198.66 509.66,197.61 511.66,196.49 513.67,195.29 515.68,194.02 517.69,192.65 519.70,191.21 521.71,189.67 523.72,188.03 525.73,186.31 527.73,184.48 529.74,182.56 531.75,180.54 533.76,178.41 535.77,176.19 537.78,173.86 539.79,171.44 541.80,168.93 543.81,166.32 545.81,163.63 547.82,160.86 549.83,158.01 551.84,155.10 553.85,152.13 555.86,149.11 557.87,146.04 559.88,142.95 561.88,139.84 563.89,136.71 565.90,133.59 567.91,130.49 569.92,127.40 571.93,124.35 573.94,121.34 575.95,118.39 577.96,115.49 579.96,112.67 581.97,109.92 583.98,107.25 585.99,104.68 588.00,102.19 590.01,99.80 592.02,97.51 594.03,95.31 596.04,93.22 598.04,91.23 600.05,89.33 602.06,87.54 604.07,85.84 606.08,84.24 608.09,82.72 610.10,81.30 612.11,79.97 614.11,78.71 616.12,77.54 618.13,76.44 620.14,75.41 622.15,74.46 624.16,73.56 626.17,72.73 628.18,71.96 630.19,71.24 632.19,70.57 634.20,69.95 636.21,69.37 638.22,68.84 640.23,68.35 642.24,67.89 644.25,67.46 646.26,67.07 648.27,66.71 650.27,66.37 652.28,66.07 654.29,65.78 656.30,65.52 658.31,65.27 660.32,65.05 662.33,64.84 664.34,64.65 666.34,64.47 668.35,64.31 670.36,64.16 672.37,64.02 674.38,63.89" fill="none" stroke="#a000e0" stroke-width="1.9" stroke-linejoin="round" stroke-linecap="round"/>
<path d="M674.38 61.50V67.50M672.18 61.50H676.58M672.18 67.50H676.58" stroke="#a000e0" stroke-width="1.3" fill="none"/>
<path d="M647.82 61.30V68.80M645.62 61.30H650.02M645.62 68.80H650.02" stroke="#a000e0" stroke-width="1.3" fill="none"/>
<path d="M621.26 72.40V80.70M619.06 72.40H623.46M619.06 80.70H623.46" stroke="#a000e0" stroke-width="1.3" fill="none"/>
<circle cx="435.33" cy="211.00" r="2.25" fill="#a000e0"/>
<circle cx="461.89" cy="210.00" r="2.25" fill="#a000e0"/>
<circle cx="488.45" cy="205.50" r="2.25" fill="#a000e0"/>
<circle cx="515.01" cy="194.70" r="2.25" fill="#a000e0"/>
<circle cx="541.57" cy="169.50" r="2.25" fill="#a000e0"/>
<circle cx="568.13" cy="129.50" r="2.25" fill="#a000e0"/>
<circle cx="594.70" cy="94.80" r="2.25" fill="#a000e0"/>
<circle cx="621.26" cy="76.00" r="2.25" fill="#a000e0"/>
<circle cx="647.82" cy="65.20" r="2.25" fill="#a000e0"/>
<circle cx="674.38" cy="64.50" r="2.25" fill="#a000e0"/>
<polyline points="435.33,211.30 437.34,211.24 439.35,211.18 441.35,211.11 443.36,211.03 445.37,210.95 447.38,210.86 449.39,210.77 451.40,210.66 453.41,210.55 455.42,210.42 457.43,210.29 459.43,210.14 461.44,209.98 463.45,209.81 465.46,209.62 467.47,209.42 469.48,209.20 471.49,208.96 473.50,208.70 475.50,208.42 477.51,208.12 479.52,207.79 481.53,207.43 483.54,207.04 485.55,206.63 487.56,206.18 489.57,205.69 491.58,205.16 493.58,204.60 495.59,203.99 497.60,203.33 499.61,202.62 501.62,201.86 503.63,201.04 505.64,200.16 507.65,199.22 509.66,198.21 511.66,197.14 513.67,195.99 515.68,194.76 517.69,193.46 519.70,192.07 521.71,190.60 523.72,189.05 525.73,187.41 527.73,185.67 529.74,183.85 531.75,181.94 533.76,179.94 535.77,177.85 537.78,175.68 539.79,173.42 541.80,171.09 543.81,168.67 545.81,166.19 547.82,163.65 549.83,161.05 551.84,158.40 553.85,155.71 555.86,152.99 557.87,150.25 559.88,147.49 561.88,144.74 563.89,141.99 565.90,139.25 567.91,136.55 569.92,133.88 571.93,131.25 573.94,128.68 575.95,126.16 577.96,123.72 579.96,121.34 581.97,119.04 583.98,116.83 585.99,114.70 588.00,112.65 590.01,110.69 592.02,108.83 594.03,107.05 596.04,105.36 598.04,103.76 600.05,102.25 602.06,100.82 604.07,99.48 606.08,98.21 608.09,97.03 610.10,95.91 612.11,94.87 614.11,93.90 616.12,92.99 618.13,92.14 620.14,91.35 622.15,90.61 624.16,89.93 626.17,89.30 628.18,88.71 630.19,88.16 632.19,87.65 634.20,87.19 636.21,86.75 638.22,86.35 640.23,85.98 642.24,85.64 644.25,85.32 646.26,85.03 648.27,84.76 650.27,84.51 652.28,84.28 654.29,84.07 656.30,83.87 658.31,83.69 660.32,83.53 662.33,83.37 664.34,83.23 666.34,83.10 668.35,82.98 670.36,82.88 672.37,82.77 674.38,82.68" fill="none" stroke="#000000" stroke-width="1.9" stroke-linejoin="round" stroke-linecap="round"/>
<path d="M674.38 79.00V85.50M672.18 79.00H676.58M672.18 85.50H676.58" stroke="#000000" stroke-width="1.3" fill="none"/>
<path d="M647.82 78.90V93.40M645.62 78.90H650.02M645.62 93.40H650.02" stroke="#000000" stroke-width="1.3" fill="none"/>
<path d="M621.26 87.50V93.50M619.06 87.50H623.46M619.06 93.50H623.46" stroke="#000000" stroke-width="1.3" fill="none"/>
<path d="M594.70 104.00V110.00M592.50 104.00H596.90M592.50 110.00H596.90" stroke="#000000" stroke-width="1.3" fill="none"/>
<path d="M568.13 130.60V141.00M565.93 130.60H570.33M565.93 141.00H570.33" stroke="#000000" stroke-width="1.3" fill="none"/>
<path d="M541.57 164.30V177.00M539.37 164.30H543.77M539.37 177.00H543.77" stroke="#000000" stroke-width="1.3" fill="none"/>
<path d="M515.01 191.80V200.50M512.81 191.80H517.21M512.81 200.50H517.21" stroke="#000000" stroke-width="1.3" fill="none"/>
<path d="M488.45 202.50V209.50M486.25 202.50H490.65M486.25 209.50H490.65" stroke="#000000" stroke-width="1.3" fill="none"/>
<circle cx="435.33" cy="210.80" r="2.25" fill="#000000"/>
<circle cx="461.89" cy="210.00" r="2.25" fill="#000000"/>
<circle cx="488.45" cy="206.00" r="2.25" fill="#000000"/>
<circle cx="515.01" cy="196.10" r="2.25" fill="#000000"/>
<circle cx="541.57" cy="170.80" r="2.25" fill="#000000"/>
<circle cx="568.13" cy="136.00" r="2.25" fill="#000000"/>
<circle cx="594.70" cy="107.00" r="2.25" fill="#000000"/>
<circle cx="621.26" cy="90.50" r="2.25" fill="#000000"/>
<circle cx="647.82" cy="86.20" r="2.25" fill="#000000"/>
<circle cx="674.38" cy="81.50" r="2.25" fill="#000000"/>
</svg>
</body></html>
